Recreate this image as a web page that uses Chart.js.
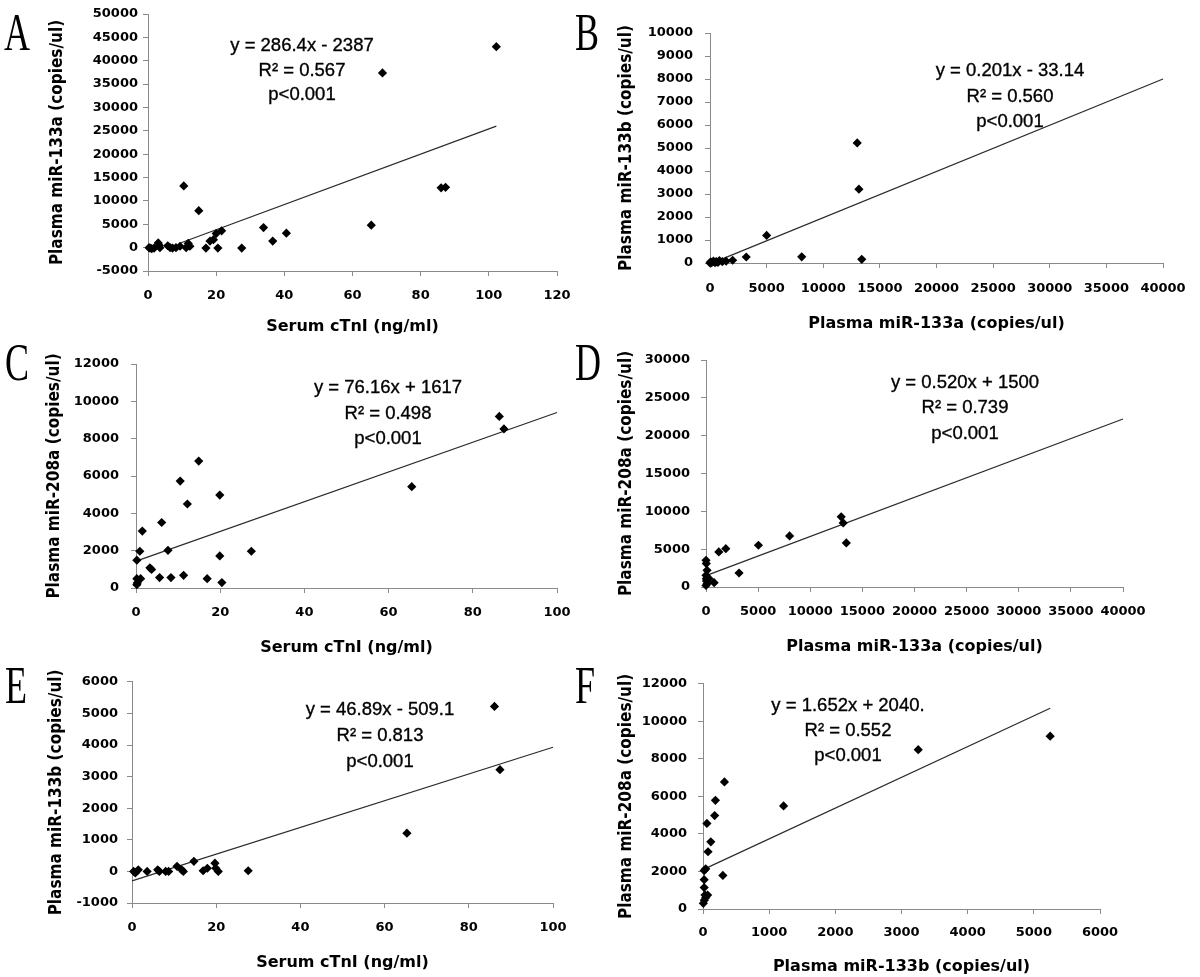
<!DOCTYPE html>
<html>
<head>
<meta charset="utf-8">
<script src="https://cdn.jsdelivr.net/npm/chart.js@4.4.0/dist/chart.umd.min.js"></script>
<style>
body { margin: 0; background: #fff; width: 1200px; height: 977px; position: relative; overflow: hidden; }
canvas { position: absolute; }
.lbl { position: absolute; font-family: "Liberation Serif", serif; font-size: 53px; line-height: 52px; transform: scaleX(0.68); transform-origin: 0 0; color: #000; }
.eq { position: absolute; width: 300px; text-align: center; font-family: "Liberation Sans", Arial, sans-serif; font-size: 18.5px; line-height: 20px; color: #000; white-space: nowrap; -webkit-text-stroke: 0.35px #000; }
</style>
</head>
<body>
<script>
// Panel A: serum cTnI vs miR-133a
const aX = [0.3, 0.6, 1.1, 1.8, 3.0, 3.3, 3.5, 5.8, 6.5, 7.2, 8.2, 9.4, 10.5, 11.2, 11.8, 12.3, 14.9, 17.0, 18.2, 19.2, 20.0, 20.5, 21.6, 27.5, 33.9, 36.6, 40.6, 65.5, 68.8, 86.0, 87.3, 102.2]
const aY = [0, -100, -200, -100, 1000, 500, 0, 400, 0, -100, 0, 300, 13200, 0, 900, 300, 7900, -100, 1400, 1700, 3000, -100, 3600, -100, 4300, 1400, 3100, 4800, 37400, 12800, 12900, 43000]
const aTrendX = [9.5, 102.2]
const aTrendY = [1000, 26000]
const aXTicks = [0, 20, 40, 60, 80, 100, 120]
const aYTicks = [-5000, 0, 5000, 10000, 15000, 20000, 25000, 30000, 35000, 40000, 45000, 50000]
const aEq = ["y = 286.4x - 2387", "R\u00b2 = 0.567", "p<0.001"]

// Panel B: miR-133a vs miR-133b
const bX = [0, 60, 150, 300, 450, 550, 700, 830, 1090, 1420, 2000, 3200, 5000, 8100, 13000, 13150, 13400]
const bY = [0, 50, 20, 80, 10, 60, 30, 100, 60, 80, 120, 260, 1200, 270, 5220, 3210, 160]
const bTrendX = [1200, 40000]
const bTrendY = [200, 8000]
const bXTicks = [0, 5000, 10000, 15000, 20000, 25000, 30000, 35000, 40000]
const bYTicks = [0, 1000, 2000, 3000, 4000, 5000, 6000, 7000, 8000, 9000, 10000]
const bEq = ["y = 0.201x - 33.14", "R\u00b2 = 0.560", "p<0.001"]

// Panel C: serum cTnI vs miR-208a
const cX = [0.2, 0.3, 0.2, 0.2, 1.1, 0.9, 1.5, 3.3, 3.7, 5.6, 6.1, 7.6, 8.3, 10.5, 11.3, 12.2, 14.9, 16.9, 19.9, 19.9, 20.4, 27.4, 65.5, 86.3, 87.4]
const cY = [180, 270, 500, 1490, 500, 1970, 3050, 1080, 990, 560, 3510, 2020, 560, 5730, 680, 4500, 6800, 500, 4980, 1720, 290, 1970, 5430, 9190, 8520]
const cTrendX = [0.2, 100]
const cTrendY = [1450, 9400]
const cXTicks = [0, 20, 40, 60, 80, 100]
const cYTicks = [0, 2000, 4000, 6000, 8000, 10000, 12000]
const cEq = ["y = 76.16x + 1617", "R\u00b2 = 0.498", "p<0.001"]

// Panel D: miR-133a vs miR-208a
const dX = [12970, 13160, 13460, 8020, 5030, 1900, 1230, 3170, 0, 30, 100, 0, 30, 100, 780, 300, 0, 50]
const dY = [9270, 8470, 5820, 6750, 5520, 5070, 4630, 1850, 3530, 3090, 2200, 1540, 1100, 440, 570, 1100, 200, 800]
const dTrendX = [0, 40000]
const dTrendY = [1500, 22200]
const dXTicks = [0, 5000, 10000, 15000, 20000, 25000, 30000, 35000, 40000]
const dYTicks = [0, 5000, 10000, 15000, 20000, 25000, 30000]
const dEq = ["y = 0.520x + 1500", "R\u00b2 = 0.739", "p<0.001"]

// Panel E: serum cTnI vs miR-133b
const eX = [86.1, 87.4, 65.3, 14.7, 19.7, 19.9, 20.5, 16.9, 17.9, 27.6, 10.7, 11.8, 12.2, 8.0, 8.7, 6.1, 6.5, 3.6, 1.5, 0.4, 0.8]
const eY = [5220, 3220, 1210, 320, 260, 100, 0, 20, 100, 20, 160, 50, 0, 0, 0, 50, 0, 0, 50, 0, -50]
const eTrendX = [0, 100]
const eTrendY = [-300, 3930]
const eXTicks = [0, 20, 40, 60, 80, 100]
const eYTicks = [-1000, 0, 1000, 2000, 3000, 4000, 5000, 6000]
const eEq = ["y = 46.89x - 509.1", "R\u00b2 = 0.813", "p<0.001"]

// Panel F: miR-133b vs miR-208a
const fX = [5247, 3253, 1218, 324, 188, 176, 59, 118, 76, 300, 18, 41, 18, 18, 30, 70, 5, 20, 40]
const fY = [9210, 8490, 5490, 6770, 5790, 4980, 4560, 3580, 3050, 1790, 2050, 2140, 1560, 1140, 740, 740, 300, 470, 600]
const fTrendX = [0, 5247]
const fTrendY = [2100, 10700]
const fXTicks = [0, 1000, 2000, 3000, 4000, 5000, 6000]
const fYTicks = [0, 2000, 4000, 6000, 8000, 10000, 12000]
const fEq = ["y = 1.652x + 2040.", "R\u00b2 = 0.552", "p<0.001"]

const serumTitle = "Serum cTnI (ng/ml)"

// layout: canvas box, plot area, title/tick positions (page px)
const panels = [
  {name: "A", xs: aX, ys: aY, tx: aTrendX, ty: aTrendY, xt: aXTicks, yt: aYTicks, eq: aEq,
   xTitle: serumTitle, yTitle: "Plasma miR-133a (copies/ul)",
   cx: 30, cy: 0, cw: 560, ch: 340, L: 148, T: 14, R: 557, B: 271,
   yTitleX: 58, xTitleY: 327, yTickRight: 138, xTickY: 296,
   eqX: 302, eqY: [45, 70, 94], lblX: 4, lblY: 15},
  {name: "B", xs: bX, ys: bY, tx: bTrendX, ty: bTrendY, xt: bXTicks, yt: bYTicks, eq: bEq,
   xTitle: "Plasma miR-133a (copies/ul)", yTitle: "Plasma miR-133b (copies/ul)",
   cx: 600, cy: 0, cw: 600, ch: 340, L: 710, T: 33, R: 1163, B: 263,
   yTitleX: 627, xTitleY: 324, yTickRight: 693, xTickY: 289,
   eqX: 1010, eqY: [70, 96, 121], lblX: 575, lblY: 15},
  {name: "C", xs: cX, ys: cY, tx: cTrendX, ty: cTrendY, xt: cXTicks, yt: cYTicks, eq: cEq,
   xTitle: serumTitle, yTitle: "Plasma miR-208a (copies/ul)",
   cx: 30, cy: 340, cw: 560, ch: 325, L: 136, T: 364, R: 557, B: 588,
   yTitleX: 55, xTitleY: 648, yTickRight: 119, xTickY: 613,
   eqX: 388, eqY: [387, 413, 438], lblX: 5, lblY: 345},
  {name: "D", xs: dX, ys: dY, tx: dTrendX, ty: dTrendY, xt: dXTicks, yt: dYTicks, eq: dEq,
   xTitle: "Plasma miR-133a (copies/ul)", yTitle: "Plasma miR-208a (copies/ul)",
   cx: 600, cy: 340, cw: 600, ch: 325, L: 706, T: 360, R: 1123, B: 587,
   yTitleX: 627, xTitleY: 647, yTickRight: 690, xTickY: 612,
   eqX: 965, eqY: [382, 407, 433], lblX: 575, lblY: 345},
  {name: "E", xs: eX, ys: eY, tx: eTrendX, ty: eTrendY, xt: eXTicks, yt: eYTicks, eq: eEq,
   xTitle: serumTitle, yTitle: "Plasma miR-133b (copies/ul)",
   cx: 30, cy: 665, cw: 560, ch: 312, L: 132, T: 681, R: 553, B: 903,
   yTitleX: 57, xTitleY: 963, yTickRight: 118, xTickY: 928,
   eqX: 380, eqY: [709, 735, 761], lblX: 5, lblY: 668},
  {name: "F", xs: fX, ys: fY, tx: fTrendX, ty: fTrendY, xt: fXTicks, yt: fYTicks, eq: fEq,
   xTitle: "Plasma miR-133b (copies/ul)", yTitle: "Plasma miR-208a (copies/ul)",
   cx: 600, cy: 665, cw: 600, ch: 312, L: 703, T: 681, R: 1100, B: 909,
   yTitleX: 627, xTitleY: 967, yTickRight: 687, xTickY: 933,
   eqX: 848, eqY: [705, 730, 755], lblX: 575, lblY: 668}
]

const AXIS = "#8a8a8a"
const TL = 5
const yTitleFont = {family: '"DejaVu Sans Condensed", "DejaVu Sans", sans-serif', size: 17, weight: "bold"}
const xTitleFont = {family: '"DejaVu Sans", sans-serif', size: 16, weight: "bold"}
const tickFont = {family: '"DejaVu Sans", sans-serif', size: 13, weight: "bold"}

function drawPanel(p) {
  const cv = document.createElement("canvas")
  cv.width = p.cw
  cv.height = p.ch
  cv.style.left = p.cx + "px"
  cv.style.top = p.cy + "px"
  document.body.appendChild(cv)

  const yLh = yTitleFont.size * 1.2, xLh = xTitleFont.size * 1.2, tLh = tickFont.size * 1.2
  const padLeft = p.yTitleX - yLh / 2 - p.cx
  const yW = p.L - p.cx - padLeft
  const xBottom = p.xTitleY + xLh / 2
  const xH = xBottom - p.B

  const axisCommon = {
    type: "linear",
    grid: {display: true, drawOnChartArea: false, drawTicks: true, tickLength: TL, color: AXIS, lineWidth: 1},
    border: {display: true, color: AXIS, width: 1},
  }

  new Chart(cv, {
    type: "scatter",
    data: {
      datasets: [
        {data: p.xs.map((x, i) => ({x, y: p.ys[i]})), pointStyle: "rectRot", pointRadius: 4.6,
         backgroundColor: "#000", borderColor: "#000", borderWidth: 0, clip: false},
        {data: p.tx.map((x, i) => ({x, y: p.ty[i]})), showLine: true, pointRadius: 0,
         borderColor: "#2b2b2b", borderWidth: 1.2, clip: false}
      ]
    },
    options: {
      responsive: false,
      animation: false,
      devicePixelRatio: 1,
      layout: {padding: {left: padLeft, top: p.T - p.cy, right: p.cx + p.cw - p.R, bottom: p.cy + p.ch - xBottom}},
      plugins: {legend: {display: false}, tooltip: {enabled: false}},
      scales: {
        x: {...axisCommon, position: "bottom",
          min: p.xt[0], max: p.xt[p.xt.length - 1],
          afterBuildTicks: s => { s.ticks = p.xt.map(v => ({value: v})) },
          afterFit: s => { s.height = xH },
          ticks: {font: tickFont, color: "#000", autoSkip: false, maxRotation: 0,
            padding: p.xTickY - p.B - TL - tLh / 2, callback: v => String(v)},
          title: {display: true, text: p.xTitle, font: xTitleFont, color: "#000", padding: 0}},
        y: {...axisCommon, position: "left",
          min: p.yt[0], max: p.yt[p.yt.length - 1],
          afterBuildTicks: s => { s.ticks = p.yt.map(v => ({value: v})) },
          afterFit: s => { s.width = yW },
          ticks: {font: tickFont, color: "#000", autoSkip: false,
            padding: p.L - TL - p.yTickRight, callback: v => String(v)},
          title: {display: true, text: p.yTitle, font: yTitleFont, color: "#000", padding: 0}}
      }
    }
  })

  p.eq.forEach((t, i) => {
    const d = document.createElement("div")
    d.className = "eq"
    d.textContent = t
    d.style.left = (p.eqX - 150) + "px"
    d.style.top = (p.eqY[i] - 10) + "px"
    document.body.appendChild(d)
  })

  const l = document.createElement("div")
  l.className = "lbl"
  l.textContent = p.name
  l.style.left = p.lblX + "px"
  l.style.top = (p.lblY - 9) + "px"
  document.body.appendChild(l)
}

panels.forEach(drawPanel)
</script>
</body>
</html>
